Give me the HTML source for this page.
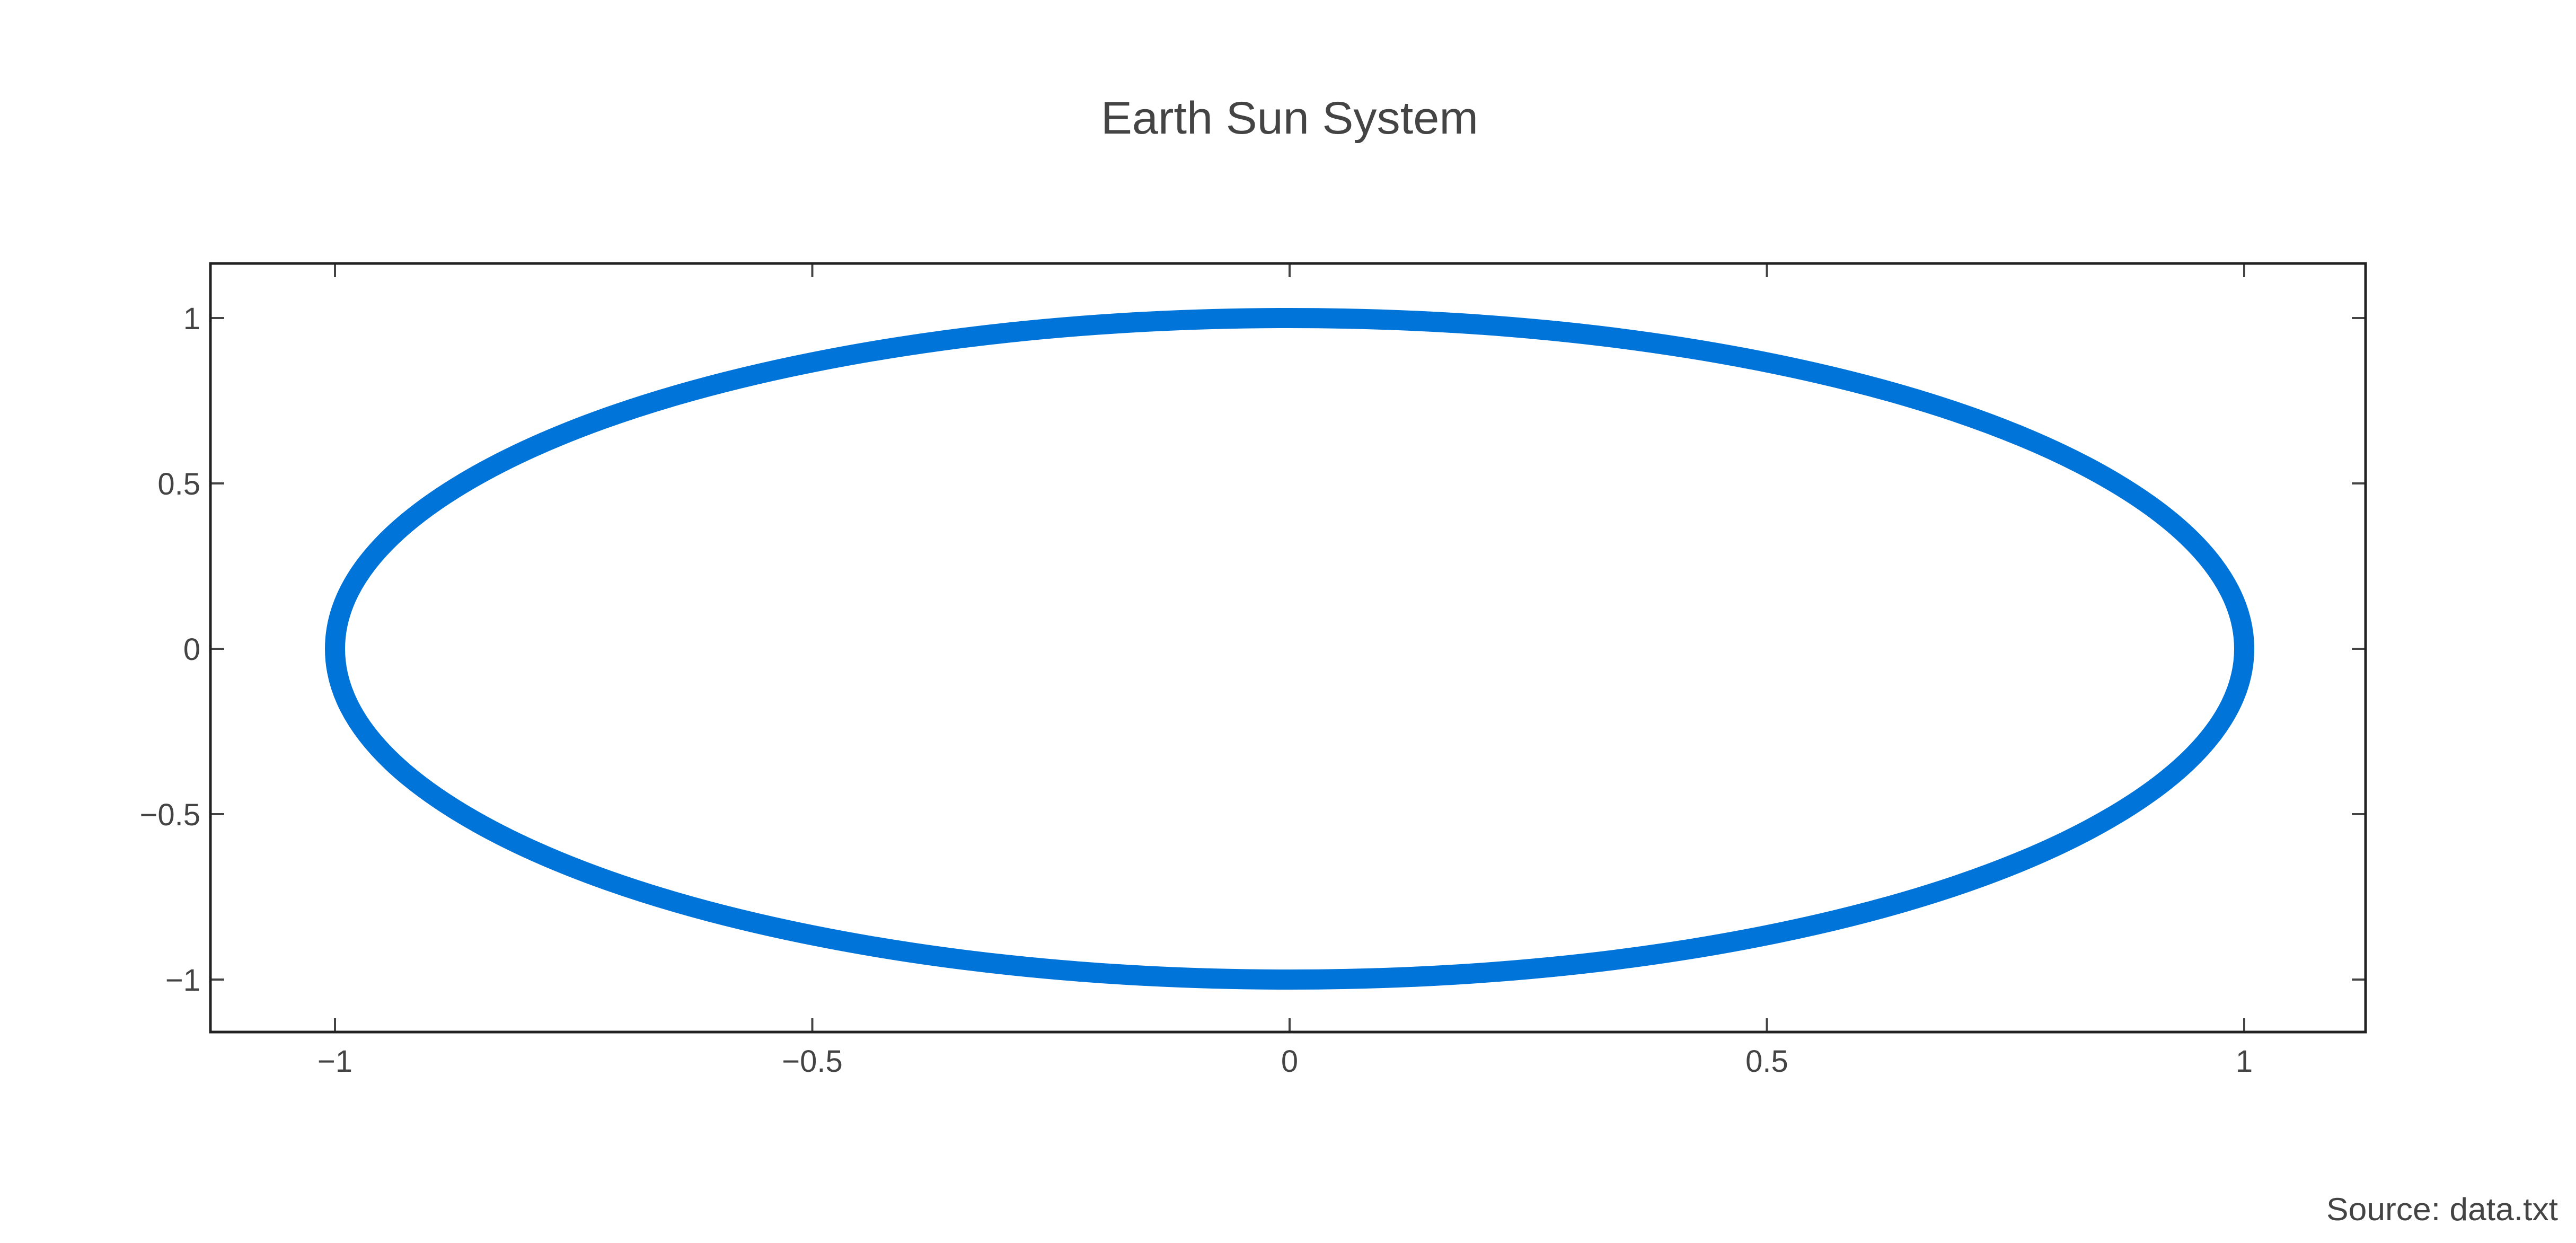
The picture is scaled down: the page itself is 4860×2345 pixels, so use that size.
<!DOCTYPE html>
<html><head><meta charset="utf-8"><style>
html,body{margin:0;padding:0;background:#fff;}
svg{display:block;}
text{font-family:"Liberation Sans",sans-serif;fill:#444;}
</style></head><body>
<svg id="chart" width="4860" height="2345" viewBox="0 0 4860 2345" xmlns="http://www.w3.org/2000/svg">
<rect x="0" y="0" width="4860" height="2345" fill="#fff"/>
<text x="2433" y="252" font-size="86" text-anchor="middle" textLength="712" lengthAdjust="spacingAndGlyphs">Earth  Sun System</text>
<g id="ticks"></g>
<g id="series"></g>
<rect x="397" y="497" width="4066" height="1450" fill="none" stroke="#222" stroke-width="5"/>
<text x="4826" y="2302" font-size="60" text-anchor="end" textLength="437" lengthAdjust="spacingAndGlyphs">Source: data.txt</text>
</svg>
<script>
const xTicks = [-1, -0.5, 0, 0.5, 1];
const xTickLabels = ["\u22121", "\u22120.5", "0", "0.5", "1"];
const yTicks = [1, 0.5, 0, -0.5, -1];
const yTickLabels = ["1", "0.5", "0", "\u22120.5", "\u22121"];
const orbitX = [1, 0.985, 0.940, 0.866, 0.766, 0.643, 0.5, 0.342, 0.174, 0, -0.174, -0.342, -0.5, -0.643, -0.766, -0.866, -0.940, -0.985, -1, -0.985, -0.940, -0.866, -0.766, -0.643, -0.5, -0.342, -0.174, 0, 0.174, 0.342, 0.5, 0.643, 0.766, 0.866, 0.940, 0.985];
const orbitY = [0, 0.174, 0.342, 0.5, 0.643, 0.766, 0.866, 0.940, 0.985, 1, 0.985, 0.940, 0.866, 0.766, 0.643, 0.5, 0.342, 0.174, 0, -0.174, -0.342, -0.5, -0.643, -0.766, -0.866, -0.940, -0.985, -1, -0.985, -0.940, -0.866, -0.766, -0.643, -0.5, -0.342, -0.174];

const NS = "http://www.w3.org/2000/svg";
const L = 397, R = 4463, T = 497, B = 1947;
function sx(v){ return 2433 + v * 1801; }
function sy(v){ return 1224 - v * 624; }

const tg = document.getElementById('ticks');
function line(x1,y1,x2,y2){
  const l = document.createElementNS(NS,'line');
  l.setAttribute('x1',x1); l.setAttribute('y1',y1);
  l.setAttribute('x2',x2); l.setAttribute('y2',y2);
  l.setAttribute('stroke','#444'); l.setAttribute('stroke-width','4');
  return l;
}
xTicks.forEach((v,i)=>{
  const x = sx(v);
  const a = line(x,B,x,B-26);
  
  
  tg.appendChild(a);
  const b = line(x,T,x,T+26);
  
  
  tg.appendChild(b);
  const t = document.createElementNS(NS,'text');
  
  
  t.setAttribute('x', x); t.setAttribute('y', 2022);
  t.setAttribute('font-size','58'); t.setAttribute('text-anchor','middle');
  t.textContent = xTickLabels[i];
  tg.appendChild(t);
});
yTicks.forEach((v,i)=>{
  const y = sy(v);
  const a = line(L,y,L+26,y);
  
  
  tg.appendChild(a);
  const b = line(R,y,R-26,y);
  
  
  tg.appendChild(b);
  const t = document.createElementNS(NS,'text');
  
  
  t.setAttribute('x', 378); t.setAttribute('y', y + 21);
  t.setAttribute('font-size','58'); t.setAttribute('text-anchor','end');
  t.textContent = yTickLabels[i];
  tg.appendChild(t);
});

// closed Catmull-Rom spline through orbit points
const pts = orbitX.map((v,i)=>[sx(v), sy(orbitY[i])]);
const n = pts.length;
let d = 'M' + pts[0][0] + ',' + pts[0][1];
for (let i=0;i<n;i++){
  const p0 = pts[(i-1+n)%n], p1 = pts[i], p2 = pts[(i+1)%n], p3 = pts[(i+2)%n];
  const c1 = [p1[0]+(p2[0]-p0[0])/6, p1[1]+(p2[1]-p0[1])/6];
  const c2 = [p2[0]-(p3[0]-p1[0])/6, p2[1]-(p3[1]-p1[1])/6];
  d += ' C' + c1[0] + ',' + c1[1] + ' ' + c2[0] + ',' + c2[1] + ' ' + p2[0] + ',' + p2[1];
}
const path = document.createElementNS(NS,'path');


path.setAttribute('d', d + 'Z');
path.setAttribute('fill','none');
path.setAttribute('stroke','#0074d9');
path.setAttribute('stroke-width','38');
document.getElementById('series').appendChild(path);
</script>
</body></html>
